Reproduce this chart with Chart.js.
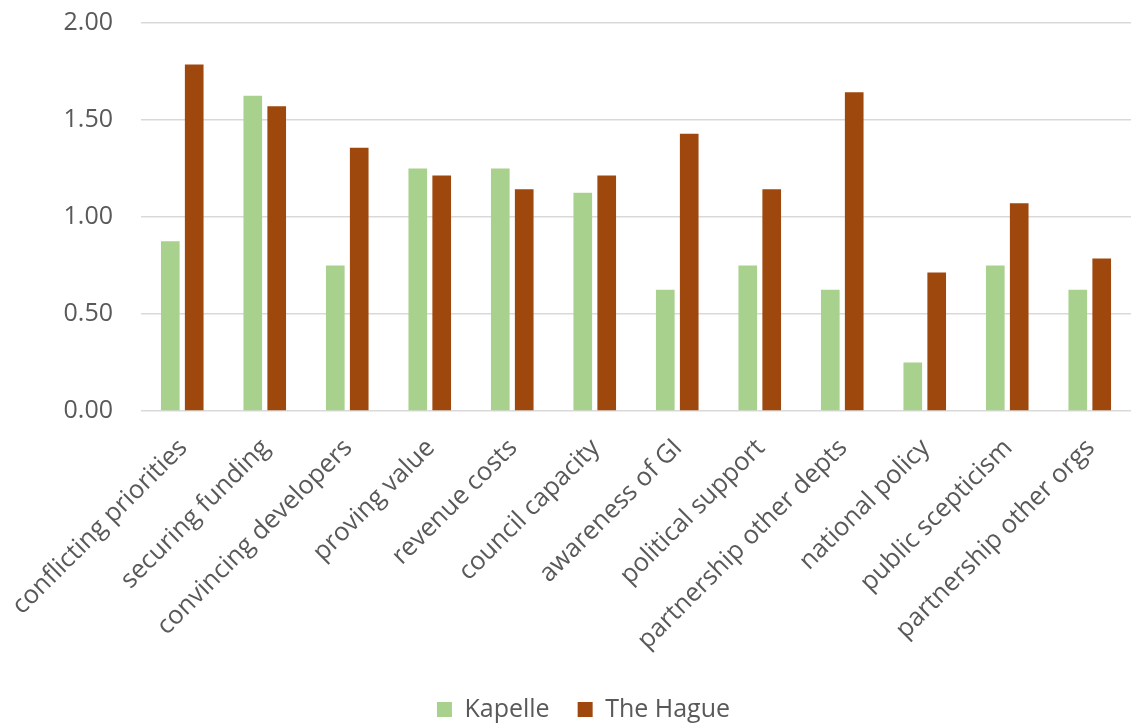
<!DOCTYPE html>
<html>
<head>
<meta charset="utf-8">
<script src="https://cdn.jsdelivr.net/npm/chart.js@4/dist/chart.umd.min.js"></script>
<style>
  html, body { margin: 0; padding: 0; background: #ffffff; }
  #wrap { width: 1132px; height: 724px; }
</style>
</head>
<body>
<div id="wrap"><canvas id="c" width="1132" height="724"></canvas></div>
<script>
// Barriers to green infrastructure: mean scores per municipality
const categories = [
  'conflicting priorities', 'securing funding', 'convincing developers', 'proving value',
  'revenue costs', 'council capacity', 'awareness of GI', 'political support',
  'partnership other depts', 'national policy', 'public scepticism', 'partnership other orgs'
];
const kapelle = [0.875, 1.625, 0.75, 1.25, 1.25, 1.125, 0.625, 0.75, 0.625, 0.25, 0.75, 0.625];
const theHague = [1.786, 1.571, 1.357, 1.214, 1.143, 1.214, 1.429, 1.143, 1.643, 0.714, 1.071, 0.786];
const yTicks = [0, 0.5, 1, 1.5, 2];

const textColor = '#595959';
const fontFamily = '"Open Sans", "Noto Sans", sans-serif';
const plotBottom = 411;
const padBottom = -8;
const padLeft = 36;

new Chart(document.getElementById('c'), {
  type: 'bar',
  data: {
    labels: categories,
    datasets: [
      { label: 'Kapelle', data: kapelle, backgroundColor: '#A9D18E' },
      { label: 'The Hague', data: theHague, backgroundColor: '#9E480E' }
    ]
  },
  options: {
    responsive: false,
    animation: false,
    devicePixelRatio: 1,
    layout: { padding: { top: 23, right: 1, bottom: padBottom, left: padLeft } },
    datasets: {
      bar: { categoryPercentage: 0.58, barPercentage: 0.78 }
    },
    plugins: {
      tooltip: { enabled: false },
      legend: {
        position: 'bottom',
        labels: {
          color: textColor,
          font: { family: fontFamily, size: 25 },
          boxWidth: 15,
          boxHeight: 15,
          padding: 28
        }
      }
    },
    scales: {
      x: {
        grid: { display: false },
        border: { display: false },
        ticks: {
          color: textColor,
          font: { family: fontFamily, size: 25.5 },
          maxRotation: 45,
          minRotation: 45,
          autoSkip: false,
          padding: 14,
          labelOffset: 1
        },
        afterFit: (scale) => {
          const chart = scale.chart;
          const legendH = chart.legend ? chart.legend.height : 0;
          scale.height = chart.height - padBottom - plotBottom - legendH;
          scale.paddingLeft = 0;
          scale.paddingRight = 0;
        }
      },
      y: {
        min: 0,
        max: 2,
        afterBuildTicks: (scale) => { scale.ticks = yTicks.map(v => ({ value: v })); },
        grid: { color: '#d9d9d9', lineWidth: 1.5, drawTicks: false },
        border: { display: false },
        ticks: {
          color: textColor,
          font: { family: fontFamily, size: 25 },
          padding: 28,
          callback: (v) => Number(v).toFixed(2)
        },
        afterFit: (scale) => {
          scale.width = 141 - padLeft;
          scale.paddingTop = 0;
          scale.paddingBottom = 0;
        }
      }
    }
  }
});
</script>
</body>
</html>
